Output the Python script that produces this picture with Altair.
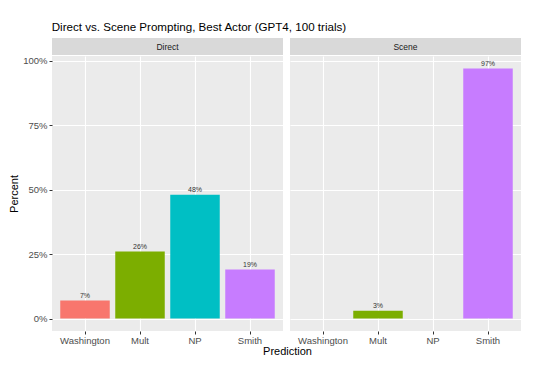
import altair as alt
import pandas as pd

title_text = "Direct vs. Scene Prompting, Best Actor (GPT4, 100 trials)"
panels = ["Direct", "Scene"]
predictions = ["Washington", "Mult", "NP", "Smith"]
direct_pct = [7, 26, 48, 19]
scene_pct = [0, 3, 0, 97]
colors = ["#F8766D", "#7CAE00", "#00BFC4", "#C77CFF"]
y_values = [0, 0.125, 0.25, 0.375, 0.5, 0.625, 0.75, 0.875, 1.0]

FONT = "Liberation Sans"
PW, PH, SH = 231, 275, 17

yscale = alt.Scale(domain=[-0.0485, 1.0185], nice=False, zero=False)
is_minor = "(datum.value * 4) % 1 != 0"


def y_axis(show):
    common = dict(
        values=y_values,
        grid=True,
        gridColor="white",
        gridWidth={"condition": {"test": is_minor, "value": 0.55}, "value": 1.1},
        domain=False,
    )
    if show:
        return alt.Axis(
            title="Percent",
            labelExpr="(datum.value * 4) % 1 == 0 ? format(datum.value, '.0%') : ''",
            tickOpacity={"condition": {"test": is_minor, "value": 0}, "value": 1},
            tickColor="#333333",
            tickSize=3,
            labelColor="#4D4D4D",
            labelFontSize=9.5,
            labelPadding=2,
            titleFontSize=11,
            titleFontWeight="normal",
            titleColor="black",
            titlePadding=3,
            **common,
        )
    return alt.Axis(title=None, labels=False, ticks=False, **common)


def x_axis(show_title):
    kw = dict(
        labelAngle=0,
        grid=True,
        gridColor="white",
        gridWidth=1.1,
        domain=False,
        tickColor="#333333",
        tickSize=3,
        labelColor="#4D4D4D",
        labelFontSize=9.5,
        labelPadding=1,
    )
    if show_title:
        return alt.Axis(
            title="Prediction",
            titleFontSize=11,
            titleFontWeight="normal",
            titleColor="black",
            titleX=235,
            titlePadding=1,
            **kw,
        )
    return alt.Axis(title=None, **kw)


def panel(name, values, show_y):
    df = pd.DataFrame({"Prediction": predictions, "pct": values})
    df = df[df["pct"] > 0].copy()
    df["frac"] = df["pct"] / 100.0
    df["label"] = df["pct"].astype(str) + "%"
    x = alt.X(
        "Prediction:N",
        sort=predictions,
        scale=alt.Scale(domain=predictions, paddingInner=0.1, paddingOuter=0.15),
        axis=x_axis(show_y),
    )
    base = alt.Chart(df)
    bars = base.mark_bar().encode(
        x=x,
        y=alt.Y("frac:Q", scale=yscale, axis=y_axis(show_y)),
        y2=alt.datum(0),
        color=alt.Color(
            "Prediction:N",
            scale=alt.Scale(domain=predictions, range=colors),
            legend=None,
        ),
    )
    text = base.mark_text(
        baseline="bottom", dy=-1.5, fontSize=7, color="#333333", font=FONT
    ).encode(
        x=alt.X("Prediction:N", sort=predictions),
        y=alt.Y("frac:Q"),
        text="label:N",
    )
    return alt.layer(bars, text).properties(width=PW, height=PH)


def strip(name):
    sdf = pd.DataFrame({"panel": [name]})
    sx = alt.X("panel:N", axis=None, scale=alt.Scale(paddingInner=0, paddingOuter=0))
    rect = alt.Chart(sdf).mark_rect(color="#D9D9D9").encode(x=sx)
    txt = alt.Chart(sdf).mark_text(fontSize=8.5, color="#1A1A1A", font=FONT).encode(
        x=sx, text="panel:N"
    )
    return alt.layer(rect, txt).properties(width=PW, height=SH)


strips_row = alt.hconcat(
    *[strip(n) for n in panels], spacing=7, bounds="flush"
).resolve_scale(x="independent")
panels_row = alt.hconcat(
    *[panel(n, v, i == 0) for i, (n, v) in enumerate(zip(panels, [direct_pct, scene_pct]))],
    spacing=7,
    bounds="flush",
).resolve_scale(x="independent", y="independent", color="independent")

chart = (
    alt.vconcat(strips_row, panels_row, spacing=0)
    .resolve_scale(x="independent", y="independent", color="independent")
    .properties(
        title=alt.TitleParams(
            title_text,
            anchor="start",
            fontSize=11.6,
            fontWeight="normal",
            color="black",
            font=FONT,
            offset=4,
            dx=43,
        ),
        padding={"left": 0, "top": 14, "right": 5, "bottom": 5},
    )
    .configure(font=FONT)
    .configure_view(fill="#EBEBEB", stroke=None)
)

chart.save("out.html", embed_options={"renderer": "svg", "actions": False})
